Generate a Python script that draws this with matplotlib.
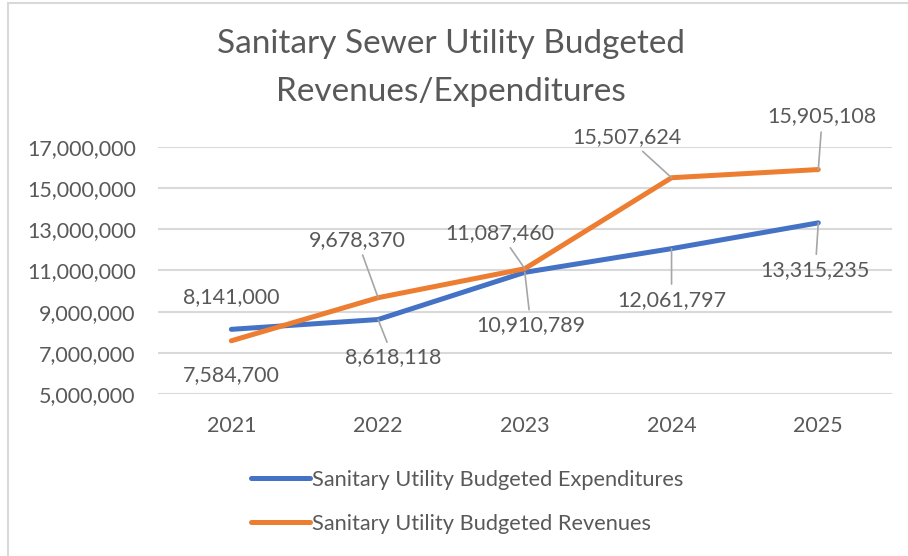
import matplotlib.pyplot as plt
from matplotlib.patches import Rectangle

plt.rcParams['font.family'] = ['Lato', 'DejaVu Sans']

years = ['2021', '2022', '2023', '2024', '2025']
expenditures = [8141000, 8618118, 10910789, 12061797, 13315235]
revenues = [7584700, 9678370, 11087460, 15507624, 15905108]

# label offsets in pixels from each point (dx, dy), leader line on/off
exp_offsets = [(0, 32), (15, -38), (6, -53), (0, -51), (-3, -47)]
exp_leader = [False, True, True, True, True]
rev_offsets = [(0, -34), (-21, 58), (-25, 36), (-45, 41), (4, 53)]
rev_leader = [False, True, True, True, True]

blue = '#4472C4'
orange = '#ED7D31'
txt = '#595959'

fig = plt.figure(figsize=(9.08, 5.56), dpi=100)
ax = fig.add_axes([0.174, 0.2914, 0.808, 0.4442])

x = range(len(years))
ax.plot(x, expenditures, color=blue, lw=3.6, solid_capstyle='round',
        solid_joinstyle='round', label='Sanitary Utility Budgeted Expenditures')
ax.plot(x, revenues, color=orange, lw=3.6, solid_capstyle='round',
        solid_joinstyle='round', label='Sanitary Utility Budgeted Revenues')

ax.set_xlim(-0.5, 4.5)
ax.set_ylim(5000000, 17000000)
ax.set_yticks(range(5000000, 17000001, 2000000))
ax.yaxis.set_major_formatter(plt.FuncFormatter(lambda v, p: f'{int(v):,}'))
ax.set_xticks(list(x))
ax.set_xticklabels(years)
ax.tick_params(length=0, labelsize=15.5, labelcolor=txt)
ax.tick_params(axis='y', pad=16)
ax.tick_params(axis='x', pad=16)
ax.grid(axis='y', color='#D9D9D9', lw=1.5)
ax.set_axisbelow(True)
for s in ax.spines.values():
    s.set_visible(False)


def add_labels(vals, offsets, leaders):
    for i, (v, (dx, dy), ld) in enumerate(zip(vals, offsets, leaders)):
        ap = None
        if ld:
            ap = dict(arrowstyle='-', color='#A6A6A6', lw=1.2, shrinkA=2, shrinkB=0)
        ax.annotate(f'{v:,}', xy=(i, v), xytext=(dx, dy), textcoords='offset pixels',
                    ha='center', va='center', fontsize=15.5, color=txt,
                    arrowprops=ap)


add_labels(expenditures, exp_offsets, exp_leader)
add_labels(revenues, rev_offsets, rev_leader)

fig.text(0.497, 0.877, 'Sanitary Sewer Utility Budgeted\nRevenues/Expenditures',
         ha='center', va='center', fontsize=24, color=txt, linespacing=1.75)

leg = fig.legend(loc='upper left', bbox_to_anchor=(251 / 908, 0.155), frameon=False,
                 fontsize=15.7, labelcolor=txt, handlelength=2.7, handletextpad=0.1,
                 labelspacing=1.1, borderpad=0, borderaxespad=0)

fig.patches.append(Rectangle((8 / 908, -0.1), 1.2, 1 - 3 / 556 + 0.1,
                             transform=fig.transFigure, fill=False,
                             edgecolor='#D9D9D9', lw=1.5))

fig.savefig('out.png', dpi=100)
